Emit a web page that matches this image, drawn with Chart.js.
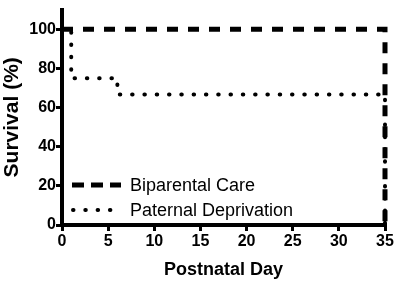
<!DOCTYPE html>
<html>
<head>
<meta charset="utf-8">
<script src="https://cdn.jsdelivr.net/npm/chart.js@4.4.1/dist/chart.umd.min.js"></script>
<style>
html,body{margin:0;padding:0;background:#fff;}
#wrap{width:400px;height:281px;position:relative;}
</style>
</head>
<body>
<div id="wrap"><canvas id="c" width="400" height="281"></canvas></div>
<script>
// Kaplan-Meier survival curves (event days and survival %)
const seriesNames = ["Biparental Care", "Paternal Deprivation"];
const biparentalDays = [0, 35];
const biparentalSurvival = [100, 0];
const paternalDays = [0, 1, 6, 35];
const paternalSurvival = [100, 75, 66.7, 0];
const yTickValues = [0, 20, 40, 60, 80, 100];
const xTickStep = 5;
const xMin = 0, xMax = 35, yMin = 0, yMax = 110;

const FONT = "'Liberation Sans', Arial, sans-serif";

function toPoints(xs, ys) { return xs.map((x, i) => ({x: x, y: ys[i]})); }

const dashStyles = [
  {borderDash: [11, 10], borderWidth: 5, borderCapStyle: 'butt'},
  {borderDash: [0.5, 11.8], borderWidth: 4, borderCapStyle: 'round'}
];

const legendPlugin = {
  id: 'insideLegend',
  afterDatasetsDraw(chart) {
    const ctx = chart.ctx;
    const ys = [185, 210];
    chart.data.datasets.forEach((ds, i) => {
      ctx.save();
      ctx.strokeStyle = '#000';
      ctx.lineWidth = ds.borderWidth;
      ctx.lineCap = ds.borderCapStyle;
      ctx.setLineDash(i === 0 ? [12, 7] : ds.borderDash);
      ctx.beginPath();
      ctx.moveTo(i === 0 ? 72 : 73, ys[i]);
      ctx.lineTo(i === 0 ? 121 : 112, ys[i]);
      ctx.stroke();
      ctx.setLineDash([]);
      ctx.fillStyle = '#000';
      ctx.font = "18px " + FONT;
      ctx.textBaseline = 'middle';
      ctx.textAlign = 'left';
      ctx.fillText(ds.label, 130, ys[i] + 1);
      ctx.restore();
    });
  }
};

new Chart(document.getElementById('c'), {
  type: 'line',
  data: {
    datasets: [
      Object.assign({
        label: seriesNames[0],
        data: toPoints(biparentalDays, biparentalSurvival),
        borderColor: '#000',
        stepped: 'before',
        pointRadius: 0,
        fill: false,
        clip: 10
      }, dashStyles[0]),
      Object.assign({
        label: seriesNames[1],
        data: toPoints(paternalDays, paternalSurvival),
        borderColor: '#000',
        stepped: 'before',
        pointRadius: 0,
        fill: false,
        clip: 10
      }, dashStyles[1])
    ]
  },
  options: {
    responsive: false,
    animation: false,
    events: [],
    layout: {padding: {left: 0, right: 15, top: 7, bottom: 0}},
    plugins: {legend: {display: false}, tooltip: {enabled: false}},
    scales: {
      x: {
        type: 'linear',
        min: xMin, max: xMax,
        border: {display: true, color: '#000', width: 4},
        grid: {display: true, drawOnChartArea: false, drawTicks: true, tickLength: 6, color: '#000', lineWidth: 3},
        ticks: {stepSize: xTickStep, color: '#000', font: {family: FONT, size: 16, weight: 'bold'}, padding: 1, maxRotation: 0},
        title: {display: true, text: 'Postnatal Day', color: '#000', font: {family: FONT, size: 18, weight: 'bold'}, padding: {top: 2, bottom: 0}},
        afterFit(scale) { scale.height = 56; }
      },
      y: {
        type: 'linear',
        min: yMin, max: yMax,
        afterBuildTicks(scale) { scale.ticks = yTickValues.map(v => ({value: v})); },
        border: {display: true, color: '#000', width: 4},
        grid: {display: true, drawOnChartArea: false, drawTicks: true, tickLength: 6, color: '#000', lineWidth: 3},
        ticks: {color: '#000', font: {family: FONT, size: 16, weight: 'bold'}, padding: 0},
        title: {display: true, text: 'Survival (%)', color: '#000', font: {family: FONT, size: 21, weight: 'bold'}, padding: {top: 0, bottom: 0}},
        afterFit(scale) { scale.width = 62; }
      }
    }
  },
  plugins: [legendPlugin]
});
</script>
</body>
</html>
